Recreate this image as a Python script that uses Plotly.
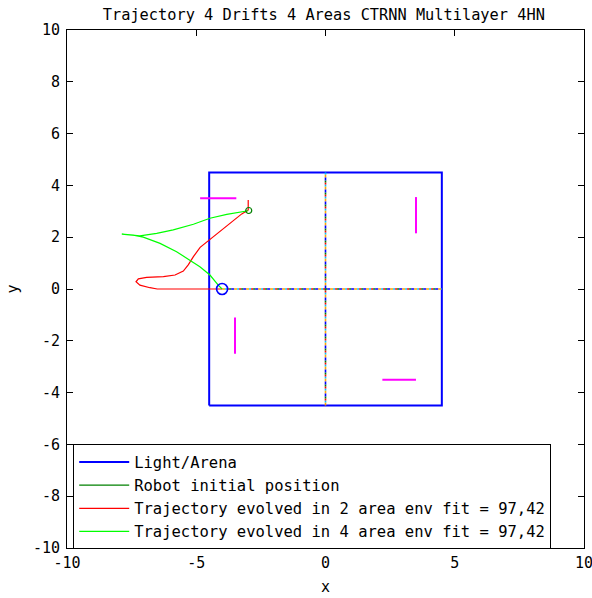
import plotly.graph_objects as go

# ---------------- data ----------------
arena_x = [-4.5, 4.5, 4.5, -4.5, -4.5]
arena_y = [-4.5, -4.5, 4.5, 4.5, -4.5]

start_x = [-4.0]
start_y = [0.0]

end_x = [-2.97]
end_y = [3.03]

red_x = [-4.0, -5.0, -6.0, -6.51, -6.79, -7.18, -7.33, -7.24, -6.92, -6.27, -5.82, -5.5,
         -5.31, -5.11, -4.85, -4.47, -4.02, -3.57, -3.24, -3.05, -2.99, -2.99]
red_y = [0.0, 0.0, 0.0, 0.0, 0.05, 0.15, 0.28, 0.39, 0.45, 0.48, 0.54, 0.69,
         0.93, 1.25, 1.61, 1.92, 2.3, 2.66, 2.9, 3.01, 3.05, 3.44]

green_x = [-4.0, -4.15, -4.47, -4.86, -5.31, -5.76, -6.4, -7.05, -7.43, -7.88, -7.18, -6.53,
           -5.89, -5.11, -4.47, -3.82, -3.31, -2.99]
green_y = [0.0, 0.15, 0.54, 0.86, 1.15, 1.44, 1.76, 2.0, 2.08, 2.12, 2.05, 2.15,
           2.28, 2.5, 2.73, 2.88, 2.98, 3.02]

drift_x = [[-4.85, -3.45], [3.5, 3.5], [-3.5, -3.5], [2.2, 3.5]]
drift_y = [[3.5, 3.5], [3.55, 2.15], [-1.1, -2.5], [-3.5, -3.5]]

vline_x = [0.0, 0.0]
vline_y = [-4.5, 4.5]
hline_x = [-4.0, 4.5]
hline_y = [0.0, 0.0]
divider_colors = ["#ffa500", "#00bfff", "#ff0000", "#008000", "#0000ff"]
divider_dashes = ["3px,9px", "0px,3px,2px,7px", "0px,5px,2px,5px",
                  "0px,7px,2px,3px", "0px,9px,3px,0px"]

x_ticks = [-10, -5, 0, 5, 10]
y_ticks = [-10, -8, -6, -4, -2, 0, 2, 4, 6, 8, 10]

title = "Trajectory 4 Drifts 4 Areas CTRNN Multilayer 4HN"
legend_names = ["Light/Arena", "Robot initial position",
                "Trajectory evolved in 2 area env fit = 97,42",
                "Trajectory evolved in 4 area env fit = 97,42"]

FONT = "DejaVu Sans Mono"

fig = go.Figure()

# arena
fig.add_trace(go.Scatter(x=arena_x, y=arena_y, mode="lines",
                         line=dict(color="#0000ff", width=2),
                         name=legend_names[0], legendrank=1))
# legend entry for robot initial position (line style like the original legend)
fig.add_trace(go.Scatter(x=[None], y=[None], mode="lines",
                         line=dict(color="#008000", width=1.3),
                         name=legend_names[1], legendrank=2))

# area dividers (overlapping multicoloured dashed lines)
for c, d in zip(divider_colors, divider_dashes):
    fig.add_trace(go.Scatter(x=vline_x, y=vline_y, mode="lines",
                             line=dict(color=c, width=1.6, dash=d), showlegend=False))
    fig.add_trace(go.Scatter(x=hline_x, y=hline_y, mode="lines",
                             line=dict(color=c, width=1.6, dash=d), showlegend=False))

# drifts
for dx, dy in zip(drift_x, drift_y):
    fig.add_trace(go.Scatter(x=dx, y=dy, mode="lines",
                             line=dict(color="#ff00ff", width=2), showlegend=False))

# trajectories
fig.add_trace(go.Scatter(x=red_x, y=red_y, mode="lines",
                         line=dict(color="#ff0000", width=1.2),
                         name=legend_names[2], legendrank=3))
fig.add_trace(go.Scatter(x=green_x, y=green_y, mode="lines",
                         line=dict(color="#00ff00", width=1.2),
                         name=legend_names[3], legendrank=4))

# robot position markers
fig.add_trace(go.Scatter(x=start_x, y=start_y, mode="markers",
                         marker=dict(symbol="circle-open", size=11, color="#0000ff",
                                     line=dict(color="#0000ff", width=1.6)),
                         showlegend=False))
fig.add_trace(go.Scatter(x=end_x, y=end_y, mode="markers",
                         marker=dict(symbol="circle-open", size=6, color="#008000",
                                     line=dict(color="#008000", width=1.2)),
                         showlegend=False))

axis_common = dict(showgrid=False, zeroline=False, showline=True, linecolor="black",
                   linewidth=1, mirror="ticks", ticks="inside", ticklen=6,
                   tickcolor="black", automargin=False, ticklabeloverflow="allow",
                   tickfont=dict(family=FONT, size=15, color="black"))

fig.update_layout(
    width=592, height=598,
    margin=dict(l=67, r=8, t=30, b=50, autoexpand=False),
    paper_bgcolor="white", plot_bgcolor="white",
    font=dict(family=FONT, size=15, color="black"),
    title=dict(text=title, x=0.547, xanchor="center", y=1 - 15 / 598, yanchor="middle",
               font=dict(family=FONT, size=15.3, color="black")),
    xaxis=dict(range=[-10, 10], tickvals=x_ticks, ticktext=[str(v) for v in x_ticks],
               title=dict(text="x", standoff=10, font=dict(family=FONT, size=15)),
               ticklabelstandoff=1, **axis_common),
    yaxis=dict(range=[-10, 10], tickvals=y_ticks, ticktext=[str(v) for v in y_ticks],
               title=dict(text="y", standoff=10, font=dict(family=FONT, size=15)),
               ticklabelstandoff=3, **axis_common),
    legend=dict(x=0.012, y=0.2, xanchor="left", yanchor="top",
                bgcolor="white", bordercolor="black", borderwidth=1,
                font=dict(family=FONT, size=15.5, color="black"),
                itemwidth=50, tracegroupgap=0),
    showlegend=True,
)

fig.write_html("out.html")
